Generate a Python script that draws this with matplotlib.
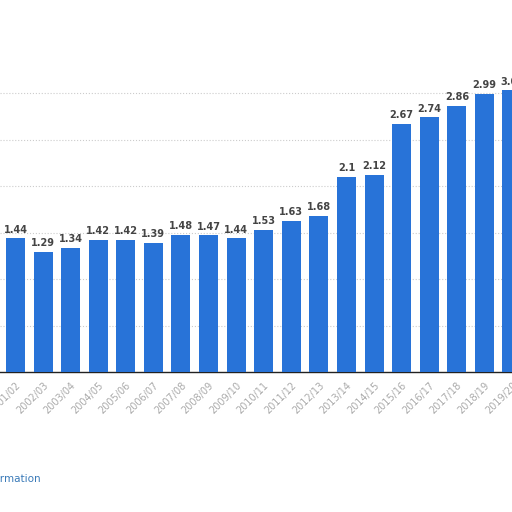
import matplotlib
matplotlib.use("Agg")
import matplotlib.pyplot as plt

# seasons and values
seasons = ["2001/02", "2002/03", "2003/04", "2004/05", "2005/06", "2006/07",
           "2007/08", "2008/09", "2009/10", "2010/11", "2011/12", "2012/13",
           "2013/14", "2014/15", "2015/16", "2016/17", "2017/18", "2018/19",
           "2019/20"]
values = [1.44, 1.29, 1.34, 1.42, 1.42, 1.39, 1.48, 1.47, 1.44, 1.53,
          1.63, 1.68, 2.1, 2.12, 2.67, 2.74, 2.86, 2.99, 3.03]

fig = plt.figure(figsize=(5.12, 5.12), dpi=100)
ax = fig.add_axes([0.0, 0.273, 1.0, 0.636])

x = list(range(len(seasons)))
ax.bar(x, values, width=0.69, color="#2873d8", zorder=3)

for xi, v in zip(x, values):
    ax.text(xi, v + 0.04, f"{v:g}", ha="center", va="bottom",
            fontsize=7, fontweight="bold", color="#444444")

ax.set_xlim(-0.56, 17.99)
ax.set_ylim(0, 3.5)
ax.set_yticks([0.5, 1.0, 1.5, 2.0, 2.5, 3.0])
ax.yaxis.grid(True, linestyle=":", color="#cccccc", linewidth=0.8, zorder=0)
ax.tick_params(axis="y", length=0, labelleft=False)

ax.set_xticks(x)
ax.set_xticklabels(seasons, rotation=45, ha="right", rotation_mode="anchor",
                   fontsize=7, color="#aaaaaa")
ax.tick_params(axis="x", length=0, pad=6)

for s in ["top", "right", "left"]:
    ax.spines[s].set_visible(False)
ax.spines["bottom"].set_color("#222222")
ax.spines["bottom"].set_linewidth(1.0)

fig.text(0.08, 0.065, "Additional Information", ha="right", va="center",
         fontsize=7.5, color="#3a7ab8")

fig.savefig("out.png", dpi=100)
